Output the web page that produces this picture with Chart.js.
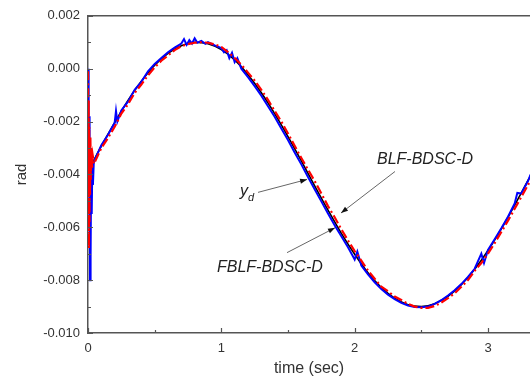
<!DOCTYPE html>
<html>
<head>
<meta charset="utf-8">
<script src="https://cdn.jsdelivr.net/npm/chart.js@4.4.1/dist/chart.umd.min.js"></script>
<style>
  html, body { margin: 0; padding: 0; background: #fff; }
  #wrap { width: 530px; height: 380px; }
</style>
</head>
<body>
<div id="wrap"><canvas id="trackChart" width="530" height="380"></canvas></div>
<script>
// desired trajectory y_d (black)
var refTime = [0.03, 0.1, 0.2, 0.3, 0.4, 0.5, 0.6, 0.7, 0.8, 0.9, 1.0, 1.1, 1.2, 1.3, 1.4, 1.5, 1.6, 1.7,
  1.8, 1.9, 2.0, 2.1, 2.2, 2.3, 2.4, 2.5, 2.6, 2.7, 2.8, 2.9, 3.0, 3.1, 3.2, 3.3, 3.32];
var refRad = [-0.00360, -0.00293, -0.00204, -0.00120, -0.00048, 0.00013, 0.00058, 0.00087, 0.00100, 0.00094,
  0.00072, 0.00033, -0.00023, -0.00091, -0.00170, -0.00257, -0.00349, -0.00443, -0.00535, -0.00623,
  -0.00702, -0.00772, -0.00828, -0.00868, -0.00893, -0.00900, -0.00889, -0.00861, -0.00817, -0.00759,
  -0.00688, -0.00606, -0.00516, -0.00423, -0.00405];

// FBLF-BDSC-D (blue)
var fblfTime = [0, 0.003, 0.005, 0.007, 0.009, 0.011, 0.013, 0.015, 0.018, 0.021, 0.024, 0.028, 0.032, 0.037, 0.043,
  0.05, 0.1, 0.15, 0.2, 0.21, 0.22, 0.25, 0.3, 0.35, 0.4, 0.45, 0.5, 0.55, 0.6, 0.65, 0.7, 0.72, 0.74, 0.76, 0.78,
  0.8, 0.82, 0.85, 0.88, 0.9, 0.95, 1.0, 1.02, 1.04, 1.06, 1.08, 1.1, 1.12, 1.15, 1.2, 1.25, 1.3, 1.35, 1.4, 1.45,
  1.5, 1.55, 1.6, 1.65, 1.7, 1.75, 1.8, 1.85, 1.9, 1.95, 2.0, 2.02, 2.05, 2.1, 2.15, 2.2, 2.25, 2.3, 2.35, 2.4,
  2.45, 2.5, 2.55, 2.6, 2.65, 2.7, 2.75, 2.8, 2.85, 2.9, 2.95, 2.97, 3.0, 3.05, 3.1, 3.15, 3.2, 3.22, 3.25, 3.3, 3.32];
var fblfRad = [0.0000, -0.0012, -0.0004, -0.0030, -0.0018, -0.0060, -0.0028, -0.0080, -0.0040, -0.0072, -0.0036,
  -0.0055, -0.0038, -0.0044, -0.0036,
  -0.00345, -0.00290, -0.00250, -0.00205, -0.00160, -0.00200, -0.00158, -0.00125, -0.00080, -0.00050, -0.00010,
  0.00018, 0.00040, 0.00062, 0.00080, 0.00095, 0.00112, 0.00090, 0.00108, 0.00095,
  0.00115, 0.00098, 0.00105, 0.00094, 0.00100, 0.00088, 0.00078, 0.00062, 0.00070, 0.00040, 0.00060, 0.00025,
  0.00040, 0.00000, -0.00032, -0.00066, -0.00102, -0.00142, -0.00182, -0.00226,
  -0.00270, -0.00317, -0.00362, -0.00410, -0.00456, -0.00502, -0.00548, -0.00592, -0.00634, -0.00676,
  -0.00722, -0.00692, -0.00745, -0.00778, -0.00808, -0.00834, -0.00855, -0.00872, -0.00886, -0.00896,
  -0.00902, -0.00903, -0.00900, -0.00890, -0.00876, -0.00858, -0.00838, -0.00815, -0.00788, -0.00757,
  -0.00700, -0.00735, -0.00686, -0.00645, -0.00604, -0.00560, -0.00510, -0.00470, -0.00472, -0.00425, -0.00400];

// BLF-BDSC-D (red, dash-dot)
var blfTime = [0, 0.003, 0.005, 0.007, 0.009, 0.011, 0.013, 0.015, 0.018, 0.021, 0.025, 0.030, 0.036, 0.045,
  0.1, 0.15, 0.2, 0.25, 0.3, 0.35, 0.4, 0.45, 0.5, 0.55, 0.6, 0.65, 0.7, 0.75, 0.8, 0.85, 0.9, 0.95, 1.0,
  1.05, 1.1, 1.15, 1.2, 1.25, 1.3, 1.35, 1.4, 1.45, 1.5, 1.55, 1.6, 1.65, 1.7, 1.75, 1.8, 1.85, 1.9, 1.95,
  2.0, 2.05, 2.1, 2.15, 2.2, 2.25, 2.3, 2.35, 2.4, 2.45, 2.5, 2.55, 2.6, 2.65, 2.7, 2.75, 2.8, 2.85, 2.9,
  2.95, 3.0, 3.05, 3.1, 3.15, 3.2, 3.25, 3.3, 3.32];
var blfRad = [-0.0001, -0.0045, -0.0012, -0.0068, -0.0022, -0.0058, -0.0030, -0.0048, -0.0026, -0.0042, -0.0030,
  -0.0038, -0.0033, -0.0036,
  -0.00300, -0.00262, -0.00220, -0.00170, -0.00135, -0.00092, -0.00060, -0.00025, 0.00005, 0.00030, 0.00050,
  0.00070, 0.00085, 0.00093, 0.00098, 0.00100, 0.00098, 0.00092, 0.00082,
  0.00063, 0.00040, 0.00015, -0.00015, -0.00045, -0.00080, -0.00118, -0.00160, -0.00200, -0.00245, -0.00292,
  -0.00338, -0.00382, -0.00425, -0.00472, -0.00520, -0.00562, -0.00608, -0.00650,
  -0.00690, -0.00726, -0.00764, -0.00795, -0.00825, -0.00842, -0.00862, -0.00875, -0.00890, -0.00900, -0.00905,
  -0.00905, -0.00898, -0.00885, -0.00868, -0.00850, -0.00825, -0.00800, -0.00765,
  -0.00735, -0.00700, -0.00660, -0.00618, -0.00575, -0.00530, -0.00485, -0.00440, -0.00420];

// axis ranges and tick steps
var xMin = 0, xMax = 3.315, xStep = 1;
var yMin = -0.010, yMax = 0.002, yStep = 0.002;

function pts(t, v) {
  return t.map(function (x, i) { return { x: x, y: v[i] }; });
}

// labels with arrows, placed in data units
var notes = [
  { text: 'BLF-BDSC-D', t: 2.1675, v: -0.00359, from: [2.3025, -0.00389], to: [1.8975, -0.00546] },
  { text: 'FBLF-BDSC-D', t: 0.9675, v: -0.00771, from: [1.4925, -0.00696], to: [1.8525, -0.00602] },
  { text: 'y', sub: 'd', t: 1.140, v: -0.00482, from: [1.275, -0.00468], to: [1.643, -0.00419] }
];

var axisColor = '#555';
var fontFam = '"Liberation Sans", Arial, Helvetica, sans-serif';

// inward tick marks, top frame line, annotations
var framePlugin = {
  id: 'frame',
  afterDraw: function (chart) {
    var c = chart.ctx, a = chart.chartArea;
    var xs = chart.scales.x, ys = chart.scales.y;
    c.save();
    c.strokeStyle = axisColor;
    c.lineWidth = 1.5;
    c.beginPath();
    c.moveTo(a.left, a.top);
    c.lineTo(a.right, a.top);
    c.stroke();
    c.lineWidth = 1.2;
    c.beginPath();
    for (var x = xMin; x <= xMax + 1e-9; x += xStep / 2) {
      var px = Math.round(xs.getPixelForValue(x)) + 0.5;
      var major = Math.abs(x - Math.round(x / xStep) * xStep) < 1e-9;
      c.moveTo(px, a.bottom);
      c.lineTo(px, a.bottom - (major ? 5 : 3));
    }
    for (var k = 0; k <= Math.round((yMax - yMin) / (yStep / 2)); k++) {
      var v = yMin + k * yStep / 2;
      var py = Math.round(ys.getPixelForValue(v)) + 0.5;
      c.moveTo(a.left, py);
      c.lineTo(a.left + (k % 2 === 0 ? 5 : 3), py);
    }
    c.stroke();

    notes.forEach(function (n) {
      var x0 = xs.getPixelForValue(n.from[0]), y0 = ys.getPixelForValue(n.from[1]);
      var x1 = xs.getPixelForValue(n.to[0]), y1 = ys.getPixelForValue(n.to[1]);
      c.strokeStyle = '#666';
      c.lineWidth = 1;
      c.beginPath();
      c.moveTo(x0, y0);
      c.lineTo(x1, y1);
      c.stroke();
      var ang = Math.atan2(y1 - y0, x1 - x0);
      c.fillStyle = '#111';
      c.beginPath();
      c.moveTo(x1, y1);
      c.lineTo(x1 - 7 * Math.cos(ang) + 2.5 * Math.sin(ang), y1 - 7 * Math.sin(ang) - 2.5 * Math.cos(ang));
      c.lineTo(x1 - 7 * Math.cos(ang) - 2.5 * Math.sin(ang), y1 - 7 * Math.sin(ang) + 2.5 * Math.cos(ang));
      c.closePath();
      c.fill();

      var tx = xs.getPixelForValue(n.t), ty = ys.getPixelForValue(n.v);
      c.fillStyle = '#222';
      c.textBaseline = 'alphabetic';
      c.textAlign = 'left';
      c.font = 'italic 16px ' + fontFam;
      c.fillText(n.text, tx, ty);
      if (n.sub) {
        var w = c.measureText(n.text).width;
        c.font = 'italic 11px ' + fontFam;
        c.fillText(n.sub, tx + w, ty + 5);
      }
    });
    c.restore();
  }
};

var ctx = document.getElementById('trackChart').getContext('2d');
var trackChart = new Chart(ctx, {
  type: 'line',
  data: {
    datasets: [{
      label: 'BLF-BDSC-D',
      data: pts(blfTime, blfRad),
      borderColor: '#ff0000',
      borderWidth: 2.2,
      borderDash: [9, 3, 2, 3],
      pointRadius: 0,
      tension: 0
    }, {
      label: 'FBLF-BDSC-D',
      data: pts(fblfTime, fblfRad),
      borderColor: '#0000ff',
      borderWidth: 2,
      pointRadius: 0,
      tension: 0
    }, {
      label: 'y_d',
      data: pts(refTime, refRad),
      borderColor: '#000000',
      borderWidth: 1.6,
      pointRadius: 0,
      cubicInterpolationMode: 'monotone'
    }]
  },
  options: {
    responsive: false,
    animation: false,
    layout: { padding: { top: 13, right: 0, left: 0, bottom: 0 } },
    plugins: { legend: { display: false }, tooltip: { enabled: false } },
    scales: {
      x: {
        type: 'linear',
        min: xMin,
        max: xMax,
        grid: { display: false, drawTicks: false },
        border: { display: true, color: axisColor, width: 1.5 },
        ticks: {
          stepSize: xStep,
          includeBounds: false,
          padding: 8,
          color: '#333',
          font: { family: fontFam, size: 13 },
          maxRotation: 0,
          callback: function (v) { return String(v); }
        },
        title: {
          display: true,
          text: 'time (sec)',
          color: '#333',
          font: { family: fontFam, size: 16 },
          padding: { top: 2, bottom: 2 }
        },
        afterFit: function (s) { s.height = 47; }
      },
      y: {
        min: yMin,
        max: yMax,
        grid: { display: false, drawTicks: false },
        border: { display: true, color: axisColor, width: 1.5 },
        ticks: {
          stepSize: yStep,
          includeBounds: false,
          padding: 8,
          color: '#333',
          font: { family: fontFam, size: 13 },
          callback: function (v) { return Math.abs(v) < 1e-9 ? '0.000' : Number(v).toFixed(3); }
        },
        title: {
          display: true,
          text: 'rad',
          color: '#333',
          font: { family: fontFam, size: 15 },
          padding: { top: 13, bottom: 2 }
        },
        afterFit: function (s) { s.width = 88; }
      }
    }
  },
  plugins: [framePlugin]
});
</script>
</body>
</html>
